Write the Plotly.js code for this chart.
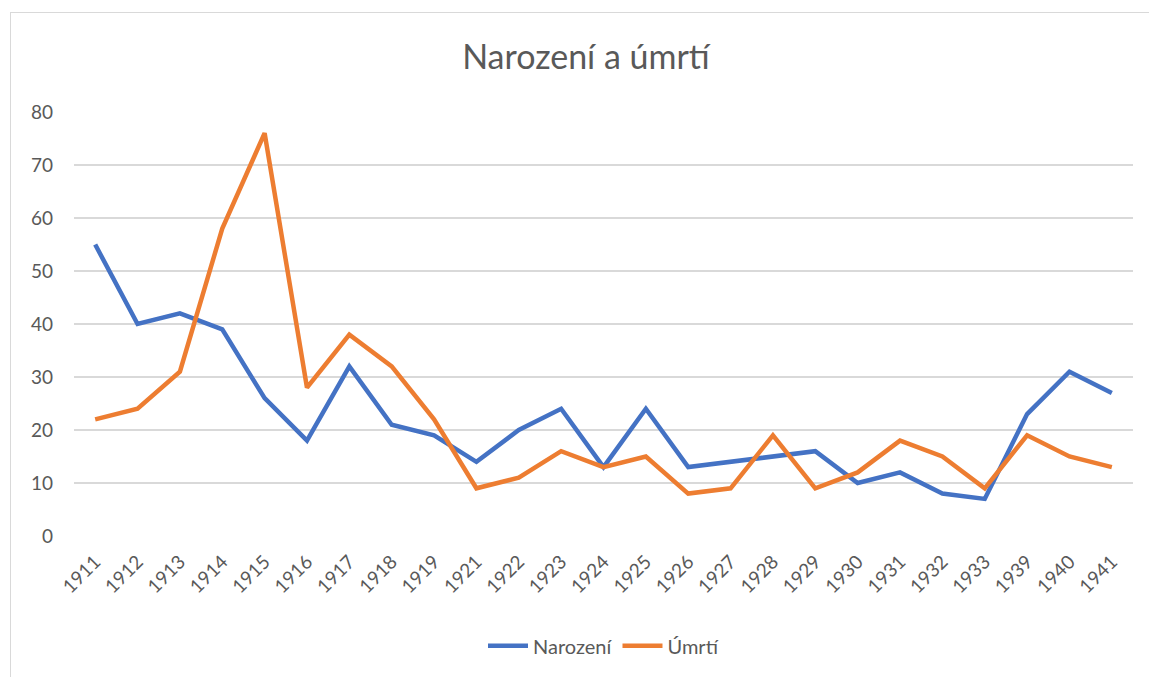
<!DOCTYPE html>
<html>
<head>
<meta charset="utf-8">
<script src="https://cdn.plot.ly/plotly-3.0.1.min.js"></script>
<style>
html,body{margin:0;padding:0;background:#fff;overflow:hidden;}
#frame{position:absolute;left:10px;top:12px;width:1160px;height:700px;border:1px solid #d9d9d9;box-sizing:border-box;}
#chart{position:absolute;left:0;top:0;width:1149px;height:677px;}
</style>
</head>
<body>
<div id="frame"></div>
<div id="chart"></div>
<script>
const years = ["1911","1912","1913","1914","1915","1916","1917","1918","1919","1921","1922","1923","1924","1925","1926","1927","1928","1929","1930","1931","1932","1933","1939","1940","1941"];
const narozeni = [55,40,42,39,26,18,32,21,19,14,20,24,13,24,13,14,15,16,10,12,8,7,23,31,27];
const umrti = [22,24,31,58,76,28,38,32,22,9,11,16,13,15,8,9,19,9,12,18,15,9,19,15,13];

const font = "Lato, 'Open Sans', sans-serif";
const traces = [
  {x: years, y: narozeni, type: 'scatter', mode: 'lines', name: 'Narození',
   line: {color: '#4472C4', width: 4.5, shape: 'linear'}},
  {x: years, y: umrti, type: 'scatter', mode: 'lines', name: 'Úmrtí',
   line: {color: '#ED7D31', width: 4.5, shape: 'linear'}}
];
const layout = {
  width: 1149, height: 677,
  paper_bgcolor: 'rgba(0,0,0,0)', plot_bgcolor: 'rgba(0,0,0,0)',
  margin: {l: 74, r: 16, t: 112, b: 141},
  font: {family: font, color: '#595959', size: 19},
  title: {text: 'Narození a úmrtí', x: 0.51, xanchor: 'center', y: 0.916, yanchor: 'middle',
          font: {family: font, size: 34, color: '#595959'}},
  xaxis: {type: 'category', range: [-0.5, 24.5], tickangle: -45, showgrid: false,
          zeroline: false, showline: false, ticks: '', ticklabelstandoff: 10,
          tickfont: {size: 19, color: '#595959'}},
  yaxis: {range: [0, 80], dtick: 10, showgrid: true, gridcolor: '#d9d9d9', gridwidth: 1.3,
          zeroline: false, showline: false, ticks: '', ticklabelstandoff: 20,
          tickfont: {size: 19, color: '#595959'}},
  showlegend: true,
  legend: {orientation: 'h', x: 0.5, xanchor: 'center', y: -0.259, yanchor: 'middle',
           font: {size: 20, color: '#595959'}, itemwidth: 40, traceorder: 'normal'}
};
Plotly.newPlot('chart', traces, layout, {displayModeBar: false, staticPlot: true});
</script>
</body>
</html>
